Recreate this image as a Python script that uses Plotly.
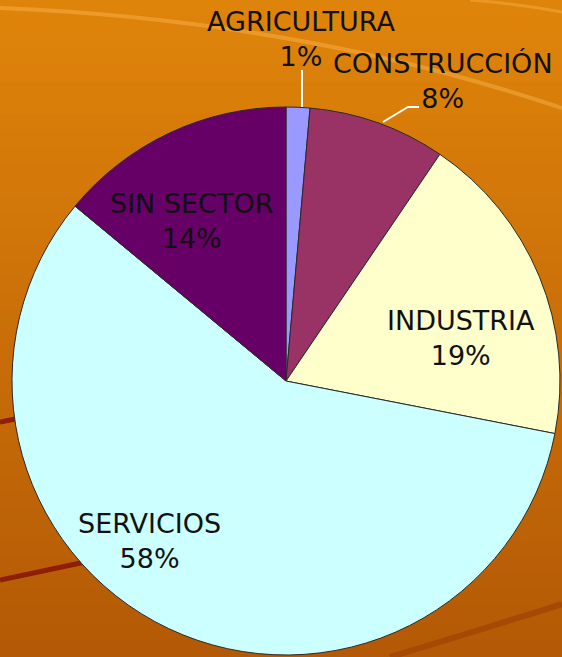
import plotly.graph_objects as go

W, H = 562, 657

# data
sectores = ["AGRICULTURA", "CONSTRUCCIÓN", "INDUSTRIA", "SERVICIOS", "SIN SECTOR"]
valores = [1.4, 8.1, 18.6, 58.0, 14.0]
colores = ["#9999FF", "#993366", "#FFFFCC", "#CCFFFF", "#660066"]

# label block centres in pixels (like the original slide)
pos_etiquetas = [(301, 39), (443, 81), (461, 338), (149, 541), (191, 221)]


def px(x):
    return x / W


def py(y):
    return 1 - y / H


def mix(c1, c2, t):
    a = [int(c1[i:i + 2], 16) for i in (1, 3, 5)]
    b = [int(c2[i:i + 2], 16) for i in (1, 3, 5)]
    return "rgb(%d,%d,%d)" % tuple(round(a[k] + (b[k] - a[k]) * t) for k in range(3))


total = sum(valores)

fig = go.Figure(go.Pie(
    labels=sectores,
    values=valores,
    sort=False,
    direction="clockwise",
    rotation=0,
    marker=dict(colors=colores, line=dict(color="#2a2a2a", width=1)),
    textinfo="none",
    domain=dict(x=[px(286 - 274), px(286 + 274)],
                y=[py(381 + 274), py(381 - 274)]),
    showlegend=False,
    hoverinfo="label+percent",
))

# background gradient bands
shapes = []
n = 40
for k in range(n):
    t = k / (n - 1)
    shapes.append(dict(type="rect", xref="paper", yref="paper", layer="below",
                       x0=0, x1=1, y0=1 - (k + 1) / n, y1=1 - k / n + 0.002,
                       line=dict(width=0),
                       fillcolor=mix("#DF840A", "#B45A06", t)))

# swooshes
swoosh = [
    ("M {},{} Q {},{} {},{}".format(px(0), py(8), px(300), py(20), px(562), py(108)),
     "rgba(255,190,90,0.4)", 4),
    ("M {},{} Q {},{} {},{}".format(px(470), py(0), px(520), py(4), px(562), py(12)),
     "rgba(255,190,90,0.35)", 3),
    ("M {},{} L {},{}".format(px(0), py(422), px(30), py(416)), "#8E1E05", 5),
    ("M {},{} L {},{}".format(px(0), py(580), px(90), py(561)), "#8E1E05", 5),
    ("M {},{} Q {},{} {},{}".format(px(390), py(657), px(480), py(630), px(562), py(604)),
     "#A44A04", 6),
]
for path, col, wd in swoosh:
    shapes.append(dict(type="path", xref="paper", yref="paper", layer="below",
                       path=path, line=dict(color=col, width=wd)))

# leader lines for the small slices
shapes.append(dict(type="line", xref="paper", yref="paper",
                   x0=px(302), y0=py(70), x1=px(302), y1=py(107),
                   line=dict(color="white", width=2)))
shapes.append(dict(type="path", xref="paper", yref="paper",
                   path="M {},{} L {},{} L {},{}".format(px(383), py(122), px(408), py(107),
                                                       px(419), py(107)),
                   line=dict(color="white", width=2)))

annotations = []
for i, (xc, yc) in enumerate(pos_etiquetas):
    annotations.append(dict(
        xref="paper", yref="paper", x=px(xc), y=py(yc),
        xanchor="center", yanchor="middle", showarrow=False,
        text="{}<br>{:.0%}".format(sectores[i], valores[i] / total),
        font=dict(family="DejaVu Sans", size=27, color="#111111"),
    ))

fig.update_layout(
    width=W, height=H,
    margin=dict(l=0, r=0, t=0, b=0),
    paper_bgcolor="#CC7508",
    plot_bgcolor="rgba(0,0,0,0)",
    shapes=shapes,
    annotations=annotations,
)

fig.write_html("out.html", config={"displayModeBar": False},
               post_script="document.body.style.margin='0';")
